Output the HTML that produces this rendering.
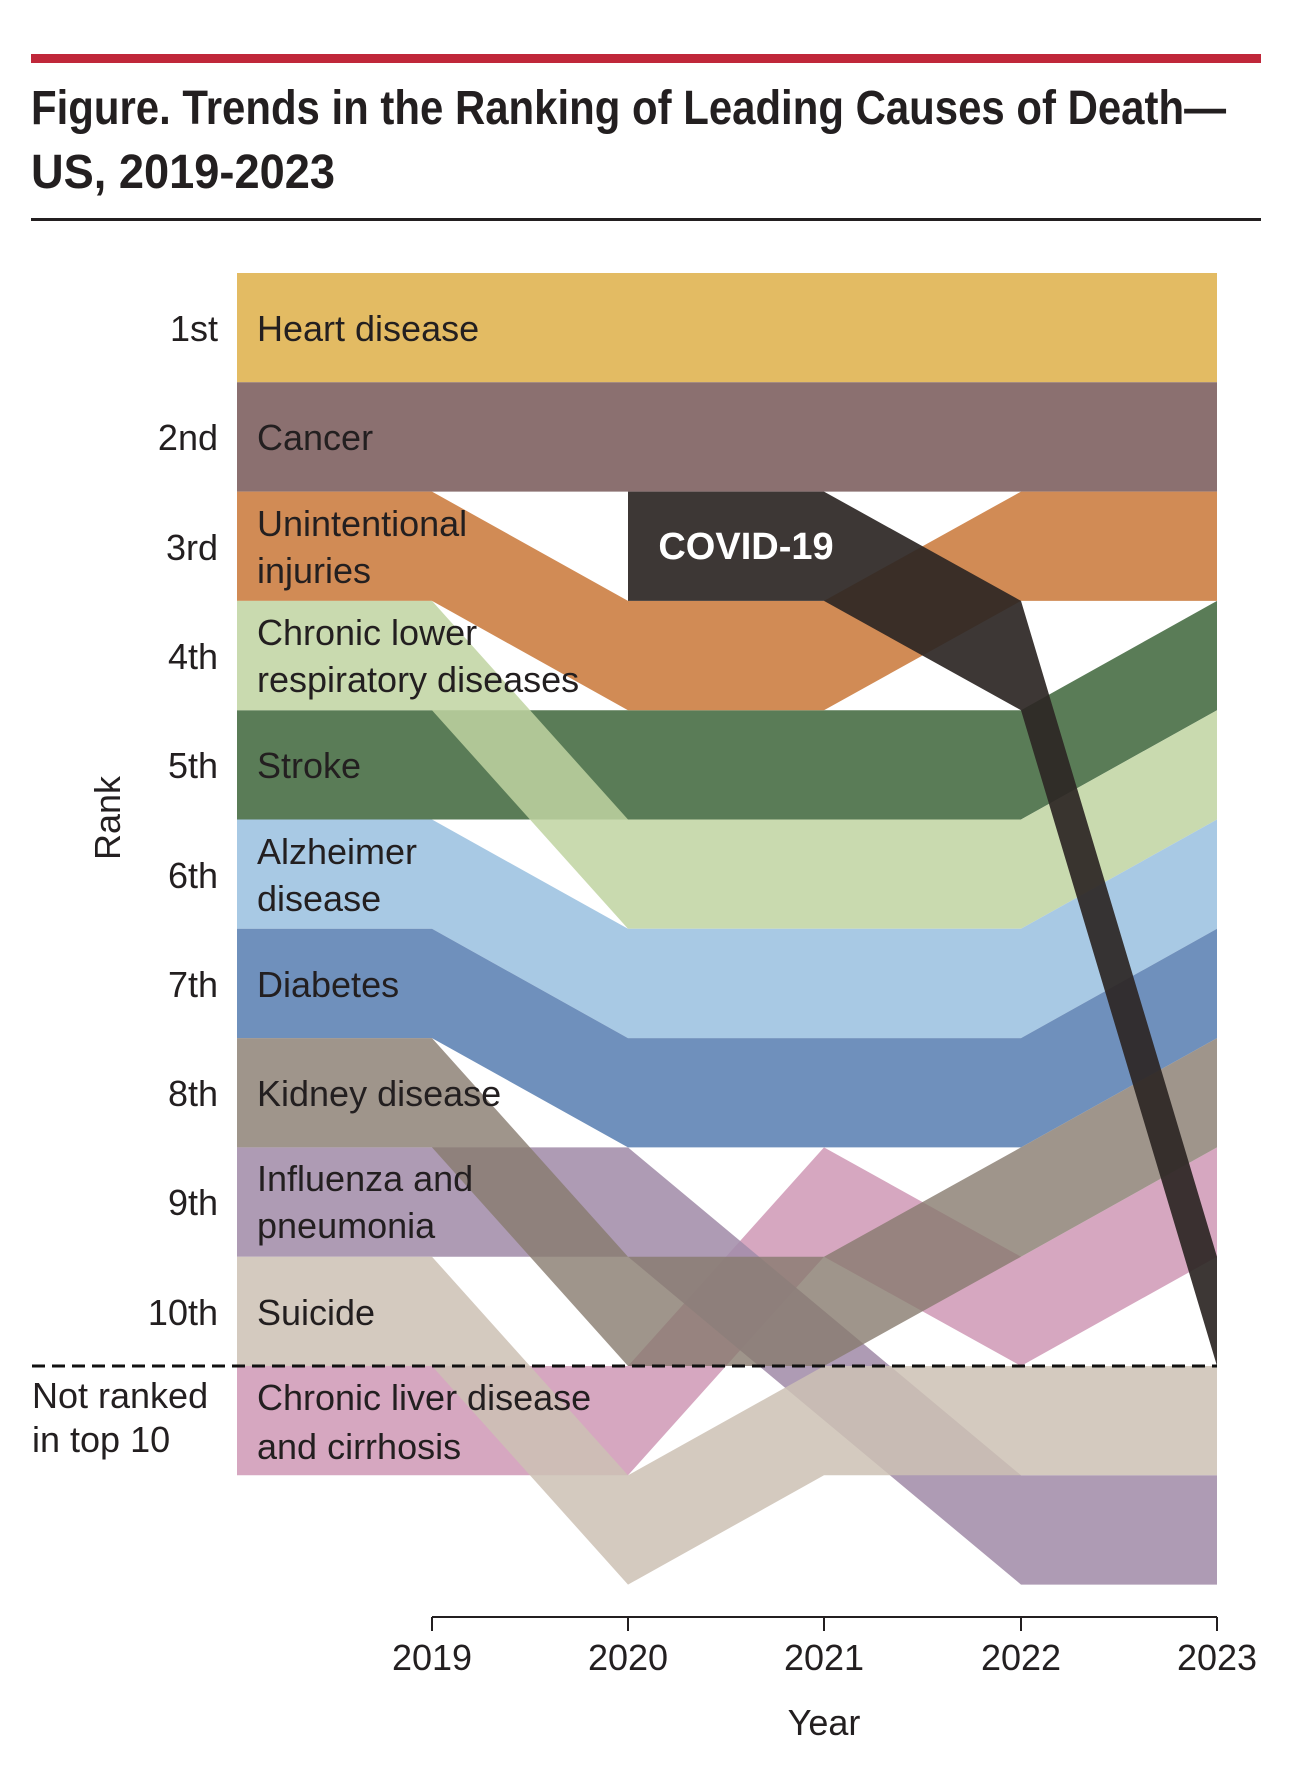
<!DOCTYPE html>
<html><head><meta charset="utf-8"><style>
html,body{margin:0;padding:0;background:#fff;}
svg{display:block;}
text{font-family:"Liberation Sans Narrow","Liberation Sans",sans-serif;fill:#231f20;}
</style></head><body>
<svg width="1300" height="1770" viewBox="0 0 1300 1770" xmlns="http://www.w3.org/2000/svg">
<rect x="31" y="54" width="1230" height="9" fill="#c0273a"/>
<text x="31" y="124" font-size="48" font-weight="bold" textLength="1195" lengthAdjust="spacingAndGlyphs">Figure. Trends in the Ranking of Leading Causes of Death—</text>
<text x="31" y="188" font-size="48" font-weight="bold" textLength="304" lengthAdjust="spacingAndGlyphs">US, 2019-2023</text>
<rect x="31" y="218" width="1230" height="3" fill="#231f20"/>

<g id="bands"></g>

<line x1="32" y1="1366" x2="1217" y2="1366" stroke="#111" stroke-width="3" stroke-dasharray="13,7"/>

<g font-size="36" text-anchor="end">
<text x="218" y="341">1st</text>
<text x="218" y="450">2nd</text>
<text x="218" y="560">3rd</text>
<text x="218" y="669">4th</text>
<text x="218" y="778">5th</text>
<text x="218" y="888">6th</text>
<text x="218" y="997">7th</text>
<text x="218" y="1106">8th</text>
<text x="218" y="1215">9th</text>
<text x="218" y="1325">10th</text>
</g>
<g font-size="36">
<text x="32" y="1408">Not ranked</text>
<text x="32" y="1452">in top 10</text>
<text x="257" y="341">Heart disease</text>
<text x="257" y="450">Cancer</text>
<text x="257" y="536">Unintentional</text>
<text x="257" y="583">injuries</text>
<text x="257" y="645">Chronic lower</text>
<text x="257" y="692">respiratory diseases</text>
<text x="257" y="778">Stroke</text>
<text x="257" y="864">Alzheimer</text>
<text x="257" y="911">disease</text>
<text x="257" y="997">Diabetes</text>
<text x="257" y="1106">Kidney disease</text>
<text x="257" y="1191">Influenza and</text>
<text x="257" y="1238">pneumonia</text>
<text x="257" y="1325">Suicide</text>
<text x="257" y="1410">Chronic liver disease</text>
<text x="257" y="1459">and cirrhosis</text>
</g>
<text x="746" y="559" font-size="38" font-weight="bold" text-anchor="middle" style="fill:#fff">COVID-19</text>
<text transform="translate(120,818) rotate(-90)" font-size="36" text-anchor="middle">Rank</text>

<g stroke="#231f20" stroke-width="2">
<line x1="432" y1="1617" x2="1217" y2="1617"/>
<line x1="432" y1="1617" x2="432" y2="1631"/>
<line x1="628" y1="1617" x2="628" y2="1631"/>
<line x1="824" y1="1617" x2="824" y2="1631"/>
<line x1="1021" y1="1617" x2="1021" y2="1631"/>
<line x1="1217" y1="1617" x2="1217" y2="1631"/>
</g>
<g font-size="36" text-anchor="middle">
<text x="432" y="1670">2019</text>
<text x="628" y="1670">2020</text>
<text x="824" y="1670">2021</text>
<text x="1021" y="1670">2022</text>
<text x="1217" y="1670">2023</text>
<text x="824" y="1735">Year</text>
</g>
</svg>
<script>
(function(){
var H=109.3,T=273;
function top(r){return T+(r-1)*H;}
var X=[237,432,628,824,1021,1217];
function band(pts,color,op){
  var up=[],dn=[];
  pts.forEach(function(p){up.push(p[0]+','+top(p[1]).toFixed(1));dn.unshift(p[0]+','+(top(p[1])+H).toFixed(1));});
  var g=document.getElementById('bands');
  var e=document.createElementNS('http://www.w3.org/2000/svg','polygon');
  e.setAttribute('points',up.concat(dn).join(' '));
  e.setAttribute('fill',color);
  e.setAttribute('fill-opacity',op);
  g.appendChild(e);
}
function R(a){return a.map(function(r,i){return [X[i],r];}).filter(function(p){return p[1]!==null;});}
band(R([1,1,1,1,1,1]),'#e3bb63',1);
band(R([2,2,2,2,2,2]),'#8b7070',1);
band(R([5,5,5,5,5,4]),'#5a7c57',1);
band(R([3,3,4,4,3,3]),'#d0874f',0.97);
band(R([4,4,6,6,6,5]),'#c0d4a1',0.85);
band(R([6,6,7,7,7,6]),'#a5c7e3',0.97);
band(R([7,7,8,8,8,7]),'#6a8cba',0.97);
band(R([11,11,11,9,10,9]),'#d19db9',0.9);
band(R([9,9,9,null,12,12]),'#a38daa',0.88);
band(R([10,10,12,11,11,11]),'#cdc1b4',0.85);
band(R([8,8,10,10,9,8]),'#877b6e',0.8);
band([[628,3],[824,3],[1021,4],[1217,10]],'#2c2624',0.92);
})();
</script>
</body></html>
